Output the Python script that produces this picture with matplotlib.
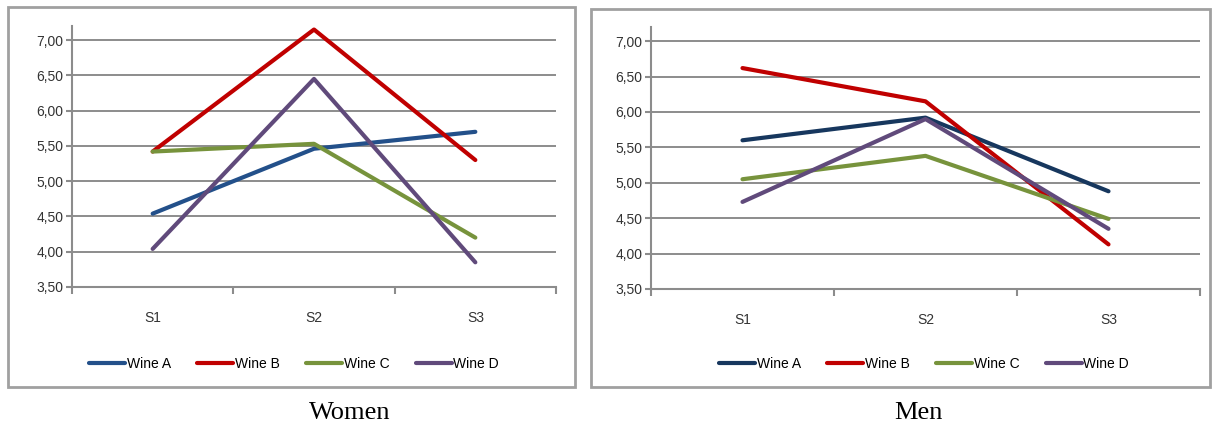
import matplotlib
matplotlib.use("Agg")
from matplotlib import pyplot as plt
from matplotlib.patches import Rectangle
from matplotlib.ticker import FuncFormatter

stages = ["S1", "S2", "S3"]
wines = ["Wine A", "Wine B", "Wine C", "Wine D"]
y_ticks = [3.5, 4.0, 4.5, 5.0, 5.5, 6.0, 6.5, 7.0]

women_a = [4.54, 5.46, 5.70]
women_b = [5.42, 7.15, 5.30]
women_c = [5.42, 5.53, 4.20]
women_d = [4.04, 6.45, 3.85]

men_a = [5.60, 5.92, 4.88]
men_b = [6.62, 6.15, 4.13]
men_c = [5.05, 5.38, 4.49]
men_d = [4.73, 5.90, 4.35]

colors_women = ["#23508a", "#c00000", "#77933c", "#604a7b"]
colors_men = ["#17375e", "#c00000", "#77933c", "#604a7b"]

GRID = "#8c8c8c"
plt.rcParams["font.family"] = ["Liberation Sans", "DejaVu Sans"]


def draw_panel(fig, rect, series, colors, legend_x):
    ax = fig.add_axes(rect)
    x = range(1, len(stages) + 1)
    lines = []
    for vals, c, name in zip(series, colors, wines):
        (ln,) = ax.plot(x, vals, color=c, lw=3.0, label=name,
                        solid_capstyle="round", zorder=3)
        lines.append(ln)
    ax.set_xlim(0.5, 3.5)
    ax.set_ylim(3.5, 7.2)
    ax.set_yticks(y_ticks)
    ax.yaxis.set_major_formatter(FuncFormatter(lambda v, p: f"{v:.2f}".replace(".", ",")))
    ax.set_xticks(list(x))
    ax.set_xticklabels(stages)
    ax.set_xticks([0.5, 1.5, 2.5, 3.5], minor=True)
    ax.tick_params(axis="x", which="major", length=0, pad=17, labelsize=10, colors="#333333")
    ax.tick_params(axis="x", which="minor", length=5, width=1.5, color=GRID, direction="out")
    ax.tick_params(axis="y", length=4, width=1.5, color=GRID, direction="out",
                   labelsize=10, labelcolor="#333333", pad=2)
    for yv in y_ticks[1:]:
        ax.axhline(yv, color=GRID, lw=1.4, zorder=1)
    for s in ["top", "right"]:
        ax.spines[s].set_visible(False)
    for s in ["left", "bottom"]:
        ax.spines[s].set_color(GRID)
        ax.spines[s].set_linewidth(1.5)
    fig.legend(handles=lines, loc="center", bbox_to_anchor=(legend_x, 1 - 364 / 428),
               ncol=4, frameon=False, handlelength=2.6, handletextpad=0.1,
               columnspacing=1.9, fontsize=10)
    return ax


fig = plt.figure(figsize=(12.14, 4.28), dpi=100)
W, H = 1214, 428

# panel frames
fig.patches.append(Rectangle((8 / W, 1 - 387 / H), (575 - 8) / W, (387 - 7) / H,
                             transform=fig.transFigure, fill=False,
                             edgecolor="#a0a0a0", lw=2))
fig.patches.append(Rectangle((591 / W, 1 - 387 / H), (1210 - 591) / W, (387 - 9) / H,
                             transform=fig.transFigure, fill=False,
                             edgecolor="#a0a0a0", lw=2))

draw_panel(fig, [72 / W, 1 - 287 / H, (556 - 72) / W, (287 - 26) / H],
           [women_a, women_b, women_c, women_d], colors_women, 294 / W)
draw_panel(fig, [651 / W, 1 - 289 / H, (1200 - 651) / W, (289 - 27) / H],
           [men_a, men_b, men_c, men_d], colors_men, 924 / W)

fig.text(350 / W, 1 - 413 / H, "Women", ha="center", va="center",
         family="Liberation Serif", fontsize=19)
fig.text(918 / W, 1 - 413 / H, "Men", ha="center", va="center",
         family="Liberation Serif", fontsize=19)

fig.savefig("out.png", dpi=100)
